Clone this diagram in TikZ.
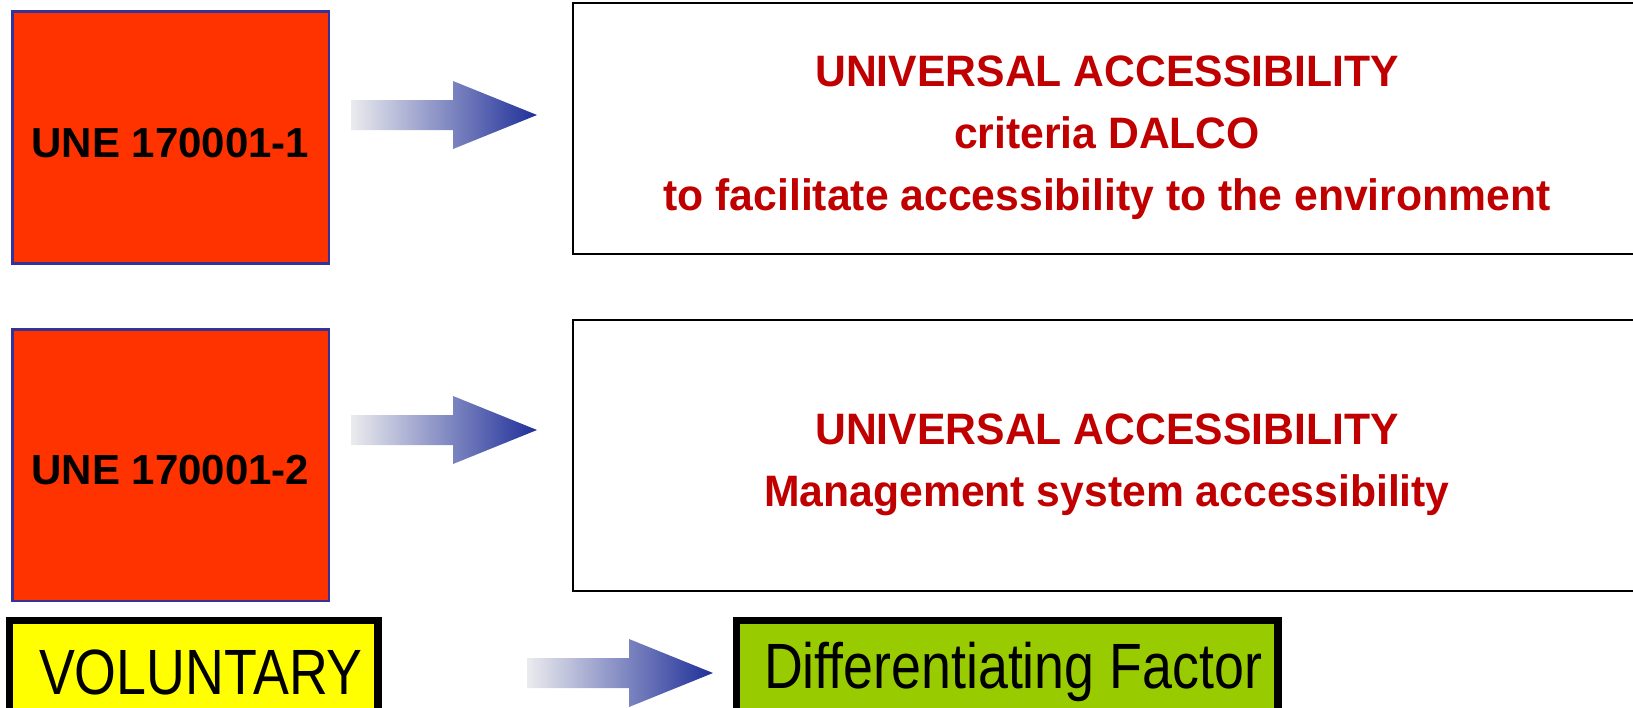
\documentclass[tikz,border=0pt]{standalone}
\usepackage{fontspec}
\setmainfont{Liberation Sans}
\newfontfamily\accfont[FakeStretch=0.97]{Liberation Sans}
\newfontfamily\narrowfont[FakeStretch=0.84]{Liberation Sans}
\usepackage{tikz}
\definecolor{uneRed}{HTML}{FF3300}
\definecolor{uneBorder}{HTML}{333399}
\definecolor{accRed}{HTML}{C00000}
\definecolor{volYellow}{HTML}{FFFF00}
\definecolor{facGreen}{HTML}{99CC00}
\definecolor{arrowLight}{HTML}{EBEBEE}
\definecolor{arrowDark}{HTML}{1F2F99}
\tikzset{
  stdbox/.style={draw=uneBorder, line width=1.3pt, fill=uneRed, inner sep=0pt,
    minimum width=158.3pt},
  stdtext/.style={inner sep=0pt, font=\fontsize{21}{25}\selectfont\bfseries},
  accbox/.style={draw=black, line width=1.2pt, fill=white, inner sep=0pt,
    minimum width=533.8pt},
  acctext/.style={inner sep=0pt, align=center, text=accRed,
    font=\accfont\fontsize{22}{31}\selectfont\bfseries},
  tagbox/.style={draw=black, line width=3.5pt, inner sep=0pt, minimum height=51.5pt},
  tagtext/.style={inner sep=0pt, font=\narrowfont\fontsize{32}{36}\selectfont},
  innerframe/.style={draw=black, line width=1pt},
  pics/fatarrow/.style={code={
    \shade[left color=arrowLight, right color=arrowDark]
      (0,-15) -- (102,-15) -- (102,-34) -- (186,0) -- (102,34) -- (102,15) -- (0,15) -- cycle;
  }}
}

\begin{document}
\begin{tikzpicture}[x=0.5pt, y=-0.5pt]
    \useasboundingbox (0,0) rectangle (1633,707);
    \clip (0,0) rectangle (1633,707);

    % LEFT: the two standards
    \node[stdbox, minimum height=125.9pt] (une1) at (170.5,137.6) {};
    \node[stdbox, minimum height=135.8pt] (une2) at (170.5,465) {};
    \node[stdtext] (une1txt) at ([yshift=-2.5pt]une1.center) {UNE 170001-1};
    \node[stdtext] (une2txt) at ([yshift=-2.5pt]une2.center) {UNE 170001-2};

    % RIGHT: what each one covers
    \node[accbox, minimum height=125.5pt] (acc1) at (1107,128.4) {};
    \node[accbox, minimum height=135.3pt] (acc2) at (1107,455.5) {};
    \node[acctext] (acc1txt) at ([yshift=-4.7pt]acc1.center)
        {UNIVERSAL ACCESSIBILITY\\criteria DALCO\\to facilitate accessibility to the environment};
    \node[acctext] (acc2txt) at ([yshift=-4.7pt]acc2.center)
        {UNIVERSAL ACCESSIBILITY\\Management system accessibility};

    % MIDDLE: block arrows
    \coordinate (arr1) at (351,115);
    \coordinate (arr2) at (351,430);
    \coordinate (arr3) at (527,673);
    \foreach \a in {arr1,arr2,arr3}
        \pic at (\a) {fatarrow};

    % BOTTOM: voluntary -> differentiating factor
    \node[tagbox, fill=volYellow, minimum width=184.4pt] (vol) at (193.9,672) {};
    \node[tagbox, fill=facGreen, minimum width=270.9pt] (fac) at (1007.4,672) {};
    \foreach \n in {vol,fac}
        \draw[innerframe] ([xshift=3.2pt,yshift=-3.2pt]\n.north west) rectangle ([xshift=-3.2pt,yshift=3.2pt]\n.south east);
    \node[tagtext] (voltxt) at ([xshift=3.5pt]vol.center) {VOLUNTARY};
    \node[tagtext] (factxt) at ([xshift=2.8pt]fac.center) {Differentiating Factor};
\end{tikzpicture}
\end{document}
